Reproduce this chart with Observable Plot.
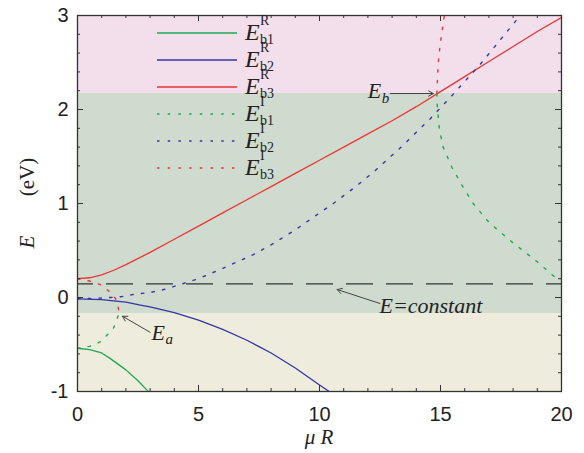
<!DOCTYPE html>
<html>
<head>
<meta charset="utf-8">
<script src="https://cdn.jsdelivr.net/npm/d3@7"></script>
<script src="https://cdn.jsdelivr.net/npm/@observablehq/plot@0.6"></script>
<style>
  html, body { margin: 0; padding: 0; background: #fff; }
  #chart svg { display: block; }
  #chart svg text.serif { font-family: 'Liberation Serif', 'DejaVu Serif', serif !important; }
</style>
</head>
<body>
<div id="chart"></div>
<script>
// ---------- data ----------
const xTickLabels = [0, 5, 10, 15, 20];
const yTickLabels = [-1, 0, 1, 2, 3];
const xMinorTicks = [1, 2, 3, 4, 6, 7, 8, 9, 11, 12, 13, 14, 16, 17, 18, 19];
const yMinorTicks = [-0.8, -0.6, -0.4, -0.2, 0.2, 0.4, 0.6, 0.8, 1.2, 1.4, 1.6, 1.8, 2.2, 2.4, 2.6, 2.8];

// exceptional points and the constant-energy line
const Ea = [1.72, -0.17];
const Eb = [14.85, 2.17];
const Econst = 0.146;

// real parts (solid)
const b1R = [[0,-0.54],[0.5,-0.555],[1,-0.59],[1.36,-0.65],[2,-0.77],[2.5,-0.885],[2.85,-0.98],[2.93,-1.0]];
const b2R = [[0,-0.015],[1,-0.022],[2,-0.05],[2.6,-0.08],[3,-0.1],[4,-0.16],[5,-0.24],[6,-0.34],[7,-0.455],[7.56,-0.53],[8,-0.59],[9,-0.75],[10,-0.93],[10.4,-1.0]];
const b3R = [[0,0.2],[0.5,0.21],[1,0.24],[1.5,0.29],[2,0.35],[2.31,0.39],[3,0.48],[4,0.62],[5,0.76],[6,0.9],[7,1.04],[8,1.18],[9,1.32],[10,1.46],[11,1.6],[12,1.74],[13,1.88],[14,2.03],[15,2.19],[16,2.35],[17,2.51],[18,2.67],[19,2.83],[20,2.98]];

// imaginary-related branches (dotted)
const b1I_a = [[0,-0.54],[0.5,-0.52],[0.92,-0.475],[1.22,-0.40],[1.5,-0.32],[1.64,-0.22],[1.72,-0.17]];
const b1I_b = [[14.85,2.17],[14.86,2.06],[14.95,1.8],[15.11,1.6],[15.48,1.38],[15.9,1.19],[16.35,1.0],[17,0.8],[18,0.58],[19,0.38],[19.8,0.2]];
const b2I = [[0,-0.015],[0.54,-0.01],[1,-0.005],[1.36,0],[1.84,0.01],[2.26,0.03],[3,0.055],[3.43,0.074],[4.38,0.149],[5,0.2],[6,0.31],[7.27,0.457],[8,0.56],[9,0.72],[10.57,1.0],[11.5,1.18],[12.3,1.35],[13.5,1.63],[14.57,1.9],[15.48,2.15],[16.64,2.48],[18.04,2.92],[18.3,3.0]];
const b3I_a = [[0,0.2],[0.5,0.175],[0.92,0.14],[1.2,0.09],[1.4,0.04],[1.57,-0.01],[1.68,-0.1],[1.72,-0.17]];
const b3I_b = [[14.85,2.17],[14.87,2.29],[14.89,2.41],[14.92,2.53],[14.96,2.63],[15.02,2.75],[15.08,2.86],[15.15,2.98],[15.16,3.0]];

// legend entries
const legendSub = ["b1", "b2", "b3", "b1", "b2", "b3"];
const legendSup = ["R", "R", "R", "I", "I", "I"];

// annotation arrows (tail -> tip), data units
const arrowEb = {x1: 12.92, y1: 2.17, x2: 14.7, y2: 2.17};
const arrowEa = {x1: 3.0, y1: -0.37, x2: 1.86, y2: -0.2};
const arrowConst = {x1: 12.5, y1: -0.064, x2: 10.73, y2: 0.085};

// ---------- styling ----------
const GREEN = "#1ea84f", BLUE = "#3535a6", RED = "#ee3434";
const legendColor = [GREEN, BLUE, RED, GREEN, BLUE, RED];
const DOT = "2.5,8.2";
const SERIF = "'Liberation Serif','DejaVu Serif',serif";
const SANS = "'Liberation Sans',Arial,sans-serif";
const W = 584, H = 453, ML = 77, MR = 23, MT = 15, MB = 62;
const innerW = W - ML - MR, innerH = H - MT - MB;

const xy = {x: d => d[0], y: d => d[1]};
const solid = c => ({...xy, stroke: c, strokeWidth: 1.3, clip: true});
const dotted = c => ({...xy, stroke: c, strokeWidth: 1.4, strokeDasharray: DOT, clip: true});

function overlay(index, scales, values, dims) {
  const g = d3.create("svg:g").attr("fill", "#222");
  const txt = (x, y, s, size, italic, rot) => {
    const t = g.append("text").attr("class", "serif")
      .style("font-family", SERIF).style("font-size", size + "px")
      .style("font-style", italic ? "italic" : "normal").text(s);
    if (rot) t.attr("transform", `translate(${x},${y}) rotate(-90)`).attr("text-anchor", "middle");
    else t.attr("x", x).attr("y", y).attr("text-anchor", "start");
    return t;
  };
  // axis labels
  txt(34, 242, "E", 21, true, true);
  txt(34, 177, "(eV)", 21, false, true);
  txt(ML + innerW / 2, H - MB + 53, "μ R", 21, true).attr("text-anchor", "middle");
  // legend
  legendSub.forEach((sub, i) => {
    const ry = MT + 18 + 27 * i;
    g.append("line").attr("x1", ML + 80).attr("x2", ML + 160).attr("y1", ry).attr("y2", ry)
      .attr("stroke", legendColor[i]).attr("stroke-width", 1.4)
      .attr("stroke-dasharray", i >= 3 ? DOT : null);
    txt(ML + 168, ry + 7, "E", 24, true);
    txt(ML + 183, ry - 8, legendSup[i], 14, false);
    txt(ML + 183, ry + 11, sub, 14, false);
  });
  // annotation labels
  const px = p => [scales.x(p.x1), scales.y(p.y1)];
  const [bx, by] = px(arrowEb);
  txt(bx - 22, by + 5, "E", 22, true);
  txt(bx - 8, by + 10, "b", 15, true);
  const [ax, ay] = px(arrowEa);
  txt(ax + 2, ay + 8.5, "E", 22, true);
  txt(ax + 16, ay + 12, "a", 15, true);
  const [cx, cy] = px(arrowConst);
  txt(cx, cy + 10, "E=constant", 22, true);
  return g.node();
}

const chart = Plot.plot({
  width: W, height: H,
  marginLeft: ML, marginRight: MR, marginTop: MT, marginBottom: MB,
  style: {fontFamily: SANS, background: "#fff", color: "#222"},
  x: {domain: [0, 20]},
  y: {domain: [-1, 3]},
  marks: [
    // background bands
    Plot.rect([{lo: -1, hi: Ea[1]}], {x1: 0, x2: 20, y1: "lo", y2: "hi", fill: "#eeecdc"}),
    Plot.rect([{lo: Ea[1], hi: Eb[1]}], {x1: 0, x2: 20, y1: "lo", y2: "hi", fill: "#cfdbce"}),
    Plot.rect([{lo: Eb[1], hi: 3}], {x1: 0, x2: 20, y1: "lo", y2: "hi", fill: "#f3dfeb"}),
    // constant energy
    Plot.ruleY([Econst], {stroke: "#333", strokeWidth: 1.2, strokeDasharray: "27,13", strokeDashoffset: 11}),
    // curves
    Plot.line(b1R, solid(GREEN)),
    Plot.line(b2R, solid(BLUE)),
    Plot.line(b3R, solid(RED)),
    Plot.line(b1I_a, dotted(GREEN)),
    Plot.line(b1I_b, dotted(GREEN)),
    Plot.line(b2I, dotted(BLUE)),
    Plot.line(b3I_a, dotted(RED)),
    Plot.line(b3I_b, dotted(RED)),
    // arrows
    Plot.arrow([arrowEb, arrowEa, arrowConst], {x1: "x1", y1: "y1", x2: "x2", y2: "y2", stroke: "#444", strokeWidth: 1, headLength: 8}),
    // frame and inward ticks
    Plot.frame({stroke: "#333", strokeWidth: 1.3}),
    Plot.tickX(xTickLabels, {x: d => d, insetTop: innerH - 6, stroke: "#333"}),
    Plot.tickX(xTickLabels, {x: d => d, insetBottom: innerH - 6, stroke: "#333"}),
    Plot.tickX(xMinorTicks, {x: d => d, insetTop: innerH - 3, stroke: "#333"}),
    Plot.tickX(xMinorTicks, {x: d => d, insetBottom: innerH - 3, stroke: "#333"}),
    Plot.tickY(yTickLabels, {y: d => d, insetRight: innerW - 6, stroke: "#333"}),
    Plot.tickY(yTickLabels, {y: d => d, insetLeft: innerW - 6, stroke: "#333"}),
    Plot.tickY(yMinorTicks, {y: d => d, insetRight: innerW - 3, stroke: "#333"}),
    Plot.tickY(yMinorTicks, {y: d => d, insetLeft: innerW - 3, stroke: "#333"}),
    // tick labels
    Plot.axisX({ticks: xTickLabels, tickSize: 0, tickPadding: 15, label: null, fontSize: 20, fontFamily: SANS, tickFormat: d => String(d)}),
    Plot.axisY({ticks: yTickLabels, tickSize: 0, tickPadding: 9, label: null, fontSize: 20, fontFamily: SANS, tickFormat: d => String(d)}),
    overlay
  ]
});
document.getElementById("chart").appendChild(chart);
</script>
</body>
</html>
